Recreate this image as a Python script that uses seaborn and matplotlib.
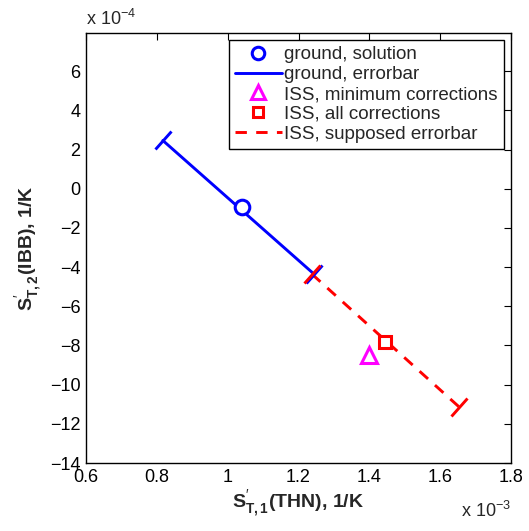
import numpy as np
import pandas as pd
import matplotlib
matplotlib.use("Agg")
import matplotlib.pyplot as plt
import seaborn as sns
from matplotlib.markers import MarkerStyle
from matplotlib.transforms import Affine2D
from matplotlib.lines import Line2D

# values (x in units of 1e-3 1/K, y in units of 1e-4 1/K)
ground_sol_x = [1.04]
ground_sol_y = [-0.92]
ground_err_x = [0.817, 1.244]
ground_err_y = [2.46, -4.36]
iss_min_x = [1.398]
iss_min_y = [-8.48]
iss_all_x = [1.443]
iss_all_y = [-7.80]
iss_err_x = [1.238, 1.653]
iss_err_y = [-4.36, -11.13]

xticks = [0.6, 0.8, 1.0, 1.2, 1.4, 1.6, 1.8]
xticklabels = ["0.6", "0.8", "1", "1.2", "1.4", "1.6", "1.8"]
yticks = [-14, -12, -10, -8, -6, -4, -2, 0, 2, 4, 6]

sns.set_style("white")
plt.rcParams['font.family'] = ['Liberation Sans', 'DejaVu Sans']
plt.rcParams['mathtext.fontset'] = 'custom'
plt.rcParams['mathtext.rm'] = 'Liberation Sans'
plt.rcParams['mathtext.bf'] = 'Liberation Sans:bold'

fig = plt.figure(figsize=(5.29, 5.31), dpi=100)
ax = fig.add_axes([0.1626, 0.128, 0.8034, 0.81])
ax.set_xlim(0.6, 1.8)
ax.set_ylim(-14, 7.95)

blue = "#0000ff"
red = "#ff0000"
mag = "#ff00ff"
LW = 2.1
DASH = (0, (3.9, 3.2))

gdf = pd.DataFrame({"x": ground_err_x, "y": ground_err_y})
idf = pd.DataFrame({"x": iss_err_x, "y": iss_err_y})
sns.lineplot(data=gdf, x="x", y="y", ax=ax, color=blue, lw=LW, sort=False,
             estimator=None)
sns.lineplot(data=idf, x="x", y="y", ax=ax, color=red, lw=LW, sort=False,
             estimator=None, linestyle=DASH)

ax.plot(ground_sol_x, ground_sol_y, 'o', ms=10.5, mfc='white', mec=blue, mew=2.2, zorder=5)
ax.plot(iss_min_x, iss_min_y, '^', ms=11, mfc='none', mec=mag, mew=2.2, zorder=5)
ax.plot(iss_all_x, iss_all_y, 's', ms=8.5, mfc='white', mec=red, mew=2.2, zorder=5)

# caps perpendicular to error lines (in display space)
fig.canvas.draw()
def caps(xs, ys, color):
    p = ax.transData.transform(np.column_stack([xs, ys]))
    d = p[1] - p[0]
    ang = np.degrees(np.arctan2(d[1], d[0]))
    m = MarkerStyle('_', transform=Affine2D().rotate_deg(ang + 90))
    ax.plot(xs, ys, linestyle='none', marker=m, ms=18, mew=LW, color=color, zorder=4)
caps(ground_err_x, ground_err_y, blue)
caps(iss_err_x, iss_err_y, red)

ax.set_xticks(xticks)
ax.set_xticklabels(xticklabels)
ax.set_yticks(yticks)
ax.set_yticklabels([str(v).replace('-', '\u2212') for v in yticks])
ax.tick_params(direction='in', length=5, width=0.8, top=True, right=True,
               labelsize=13, colors='black', pad=4)
for s in ax.spines.values():
    s.set_visible(True)
    s.set_color('black')
    s.set_linewidth(1.0)

ax.set_xlabel(r"$\mathbf{S}_{\mathbf{T,1}}^{\prime}$(THN), 1/K", fontsize=14, fontweight='bold', labelpad=2)
ax.set_ylabel(r"$\mathbf{S}_{\mathbf{T,2}}^{\prime}$(IBB), 1/K", fontsize=14, fontweight='bold', labelpad=4)

fig.text(0.1626, 0.945, r"x 10$^{\mathregular{-4}}$", fontsize=13, ha='left', va='bottom')
fig.text(0.966, 0.018, r"x 10$^{\mathregular{-3}}$", fontsize=13, ha='right', va='bottom')

handles = [
    Line2D([], [], ls='none', marker='o', ms=9, mfc='white', mec=blue, mew=2.2),
    Line2D([], [], color=blue, lw=LW),
    Line2D([], [], ls='none', marker='^', ms=10, mfc='none', mec=mag, mew=2.2),
    Line2D([], [], ls='none', marker='s', ms=7.5, mfc='white', mec=red, mew=2.2),
    Line2D([], [], color=red, lw=LW, ls=DASH),
]
labels = ["ground, solution", "ground, errorbar", "ISS, minimum corrections",
          "ISS, all corrections", "ISS, supposed errorbar"]
leg = ax.legend(handles, labels, loc='upper right', fontsize=13.5, frameon=True,
                fancybox=False, edgecolor='black', framealpha=1,
                borderaxespad=0.4, handlelength=2.5, handletextpad=0.15,
                labelspacing=0.15, borderpad=0.3)
leg.get_frame().set_linewidth(1.0)

fig.savefig("out.png", dpi=100)
